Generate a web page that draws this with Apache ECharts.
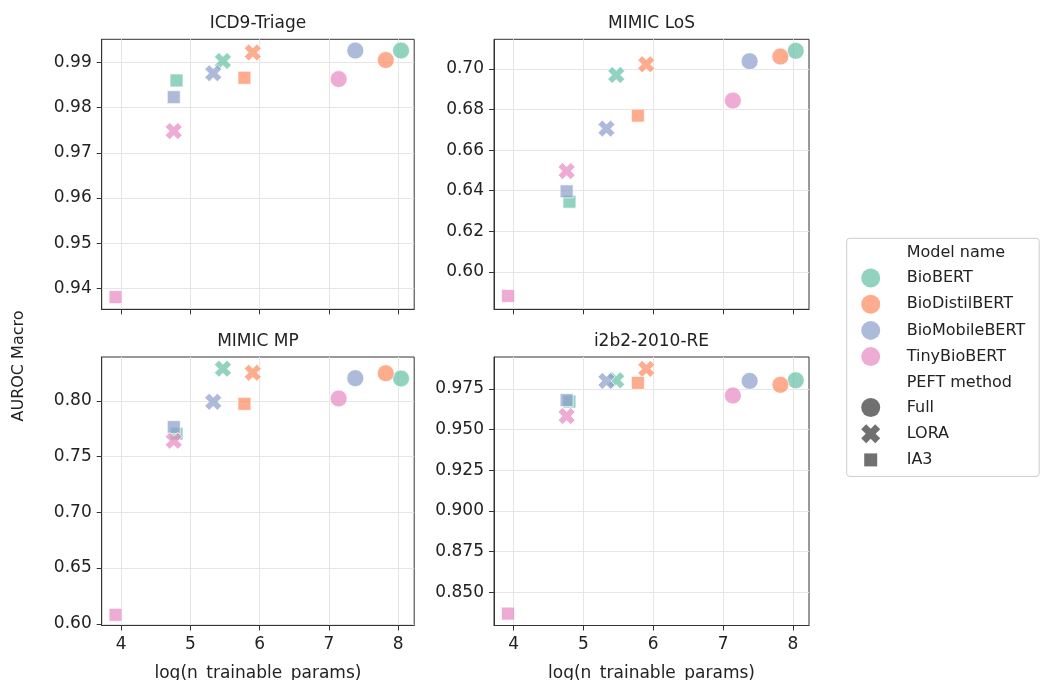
<!DOCTYPE html>
<html><head><meta charset="utf-8">
<script src="https://cdn.jsdelivr.net/npm/echarts@6/dist/echarts.min.js"></script>
<style>html,body{margin:0;padding:0;background:#fff}#c{width:1040px;height:680px}</style>
</head><body><div id="c"></div>
<script>
// ---------------- data ----------------
const panelTitles = ['ICD9-Triage', 'MIMIC LoS', 'MIMIC MP', 'i2b2-2010-RE'];
const modelNames = ['BioBERT', 'BioDistilBERT', 'BioMobileBERT', 'TinyBioBERT'];
const peftMethods = ['Full', 'LORA', 'IA3'];
// log(n_trainable_params), order: Full, LORA, IA3
const logParamsBioBERT = [8.04, 5.47, 4.80];
const logParamsBioDistilBERT = [7.82, 5.90, 5.78];
const logParamsBioMobileBERT = [7.38, 5.33, 4.76];
const logParamsTinyBioBERT = [7.14, 4.76, 3.92];
// AUROC Macro, order: BioBERT(F,L,I), BioDistilBERT(F,L,I), BioMobileBERT(F,L,I), TinyBioBERT(F,L,I)
const aurocICD9 = [0.9926, 0.9903, 0.9860, 0.9905, 0.9922, 0.9866, 0.9926, 0.9876, 0.9823, 0.9863, 0.9748, 0.9381];
const aurocLoS = [0.7089, 0.6970, 0.6346, 0.7061, 0.7023, 0.6770, 0.7038, 0.6706, 0.6397, 0.6844, 0.6497, 0.5882];
const aurocMP = [0.8200, 0.8288, 0.7705, 0.8247, 0.8252, 0.7973, 0.8203, 0.7991, 0.7764, 0.8021, 0.7642, 0.6081];
const aurocI2b2 = [0.9803, 0.9803, 0.9672, 0.9775, 0.9873, 0.9787, 0.9799, 0.9799, 0.9681, 0.9709, 0.9583, 0.8369];
// tick labels
const xTicks = [4, 5, 6, 7, 8];
const yTicksICD9 = [0.94, 0.95, 0.96, 0.97, 0.98, 0.99];
const yTicksLoS = [0.60, 0.62, 0.64, 0.66, 0.68, 0.70];
const yTicksMP = [0.60, 0.65, 0.70, 0.75, 0.80];
const yTicksI2b2 = [0.850, 0.875, 0.900, 0.925, 0.950, 0.975];

// ---------------- layout / style ----------------
const FONT = 'DejaVu Sans';
const FS = 17;
const xParams = [logParamsBioBERT, logParamsBioDistilBERT, logParamsBioMobileBERT, logParamsTinyBioBERT];
const yPanels = [aurocICD9, aurocLoS, aurocMP, aurocI2b2];
const yTicksPanels = [yTicksICD9, yTicksLoS, yTicksMP, yTicksI2b2];
const yDecimals = [2, 2, 2, 3];
const yRanges = [[0.9354, 0.9951], [0.5816, 0.7146], [0.5985, 0.8393], [0.8296, 0.9946]];
const xRange = [3.72, 8.23];
const grids = [
  {left: 101.7, top: 39.3, width: 312.5, height: 270},
  {left: 494, top: 39.3, width: 315, height: 270},
  {left: 101.7, top: 357, width: 312.5, height: 268.5},
  {left: 494, top: 357, width: 315, height: 268.5}
];
const colors = ['#66c2a5', '#fc8d62', '#8da0cb', '#e78ac3'];
const legendColors = ['#91d3be', '#fdad8e', '#adbbda', '#eeabd4'];
const grayLegend = '#707070';
const xPath = 'path://M0 26L26 0L50 24L74 0L100 26L76 50L100 74L74 100L50 76L26 100L0 74L24 50Z';
const sqLegendPath = 'path://M0 0M19 19M3 3H16V16H3Z';
const symbols = ['circle', xPath, 'rect'];
const sizes = [17, 17, 13];

const series = [];
for (let g = 0; g < 4; g++) {
  for (let m = 0; m < 4; m++) {
    series.push({
      type: 'scatter', name: modelNames[m], xAxisIndex: g, yAxisIndex: g,
      itemStyle: {color: colors[m], opacity: 0.72, borderColor: '#fff', borderWidth: 1},
      emphasis: {disabled: true},
      data: peftMethods.map((p, k) => ({
        value: [xParams[m][k], yPanels[g][m * 3 + k]],
        symbol: symbols[k], symbolSize: sizes[k]
      }))
    });
  }
}
['Model name', 'PEFT method'].concat(peftMethods).forEach(n => {
  series.push({type: 'scatter', name: n, xAxisIndex: 0, yAxisIndex: 0, data: [], itemStyle: {color: grayLegend}});
});

const legendData = [{name: 'Model name', icon: 'none'}]
  .concat(modelNames.map((n, i) => ({name: n, icon: 'circle', itemStyle: {color: legendColors[i], opacity: 1, borderWidth: 0}})))
  .concat([{name: 'PEFT method', icon: 'none'},
    {name: 'Full', icon: 'circle', itemStyle: {color: grayLegend, opacity: 1, borderWidth: 0}},
    {name: 'LORA', icon: xPath, itemStyle: {color: grayLegend, opacity: 1, borderWidth: 0}},
    {name: 'IA3', icon: sqLegendPath, itemStyle: {color: grayLegend, opacity: 1, borderWidth: 0}}]);

const option = {
  animation: false,
  backgroundColor: '#fff',
  textStyle: {fontFamily: FONT},
  title: panelTitles.map((t, g) => ({
    text: t, left: grids[g].left + grids[g].width / 2, top: g < 2 ? 15 : 333, padding: 0,
    textAlign: 'center',
    textStyle: {fontFamily: FONT, fontSize: FS, fontWeight: 'normal', color: '#222'}
  })),
  grid: grids.map(gr => Object.assign({show: true, borderColor: '#333', borderWidth: 1, backgroundColor: 'transparent', outerBoundsMode: 'none', containLabel: false}, gr)),
  xAxis: grids.map((gr, g) => ({
    type: 'value', gridIndex: g, min: xRange[0], max: xRange[1],
    axisLine: {show: true, onZero: false, lineStyle: {color: '#333', width: 1}},
    axisTick: {show: true, length: 5, customValues: xTicks, lineStyle: {color: '#333'}},
    axisLabel: {show: g >= 2, customValues: xTicks, margin: 11, fontSize: FS, color: '#222', fontFamily: FONT},
    splitLine: {show: true, lineStyle: {color: '#e6e6e6', width: 1}}
  })),
  yAxis: grids.map((gr, g) => ({
    type: 'value', gridIndex: g, min: yRanges[g][0], max: yRanges[g][1],
    axisLine: {show: true, onZero: false, lineStyle: {color: '#333', width: 1}},
    axisTick: {show: true, length: 5, customValues: yTicksPanels[g], lineStyle: {color: '#333'}},
    axisLabel: {show: true, customValues: yTicksPanels[g], margin: 10, fontSize: FS, color: '#222', fontFamily: FONT,
      formatter: v => v.toFixed(yDecimals[g])},
    splitLine: {show: true, lineStyle: {color: '#e6e6e6', width: 1}}
  })),
  legend: {
    orient: 'vertical', left: 846.7, top: 238.3,
    padding: [5.5, 14, 7, 6], itemWidth: 36, itemHeight: 19, itemGap: 7.2,
    selectedMode: false,
    backgroundColor: 'rgba(255,255,255,0.8)', borderColor: '#cccccc', borderWidth: 1, borderRadius: 3,
    textStyle: {fontFamily: FONT, fontSize: 16, color: '#222', padding: [0, 0, 0, 13]},
    data: legendData
  },
  graphic: [
    {type: 'text', x: 19, y: 366, rotation: Math.PI / 2,
      style: {text: 'AUROC Macro', fontSize: 16, fill: '#222', fontFamily: FONT, align: 'center', verticalAlign: 'middle'}},
    {type: 'text', x: grids[2].left + grids[2].width / 2, y: 674,
      style: {text: 'log(n_trainable_params)', fontSize: FS, fill: '#222', fontFamily: FONT, align: 'center', verticalAlign: 'middle'}},
    {type: 'text', x: grids[3].left + grids[3].width / 2, y: 674,
      style: {text: 'log(n_trainable_params)', fontSize: FS, fill: '#222', fontFamily: FONT, align: 'center', verticalAlign: 'middle'}}
  ],
  series: series
};
const chart = echarts.init(document.getElementById('c'), null, {renderer: 'canvas'});
chart.setOption(option);
</script></body></html>
